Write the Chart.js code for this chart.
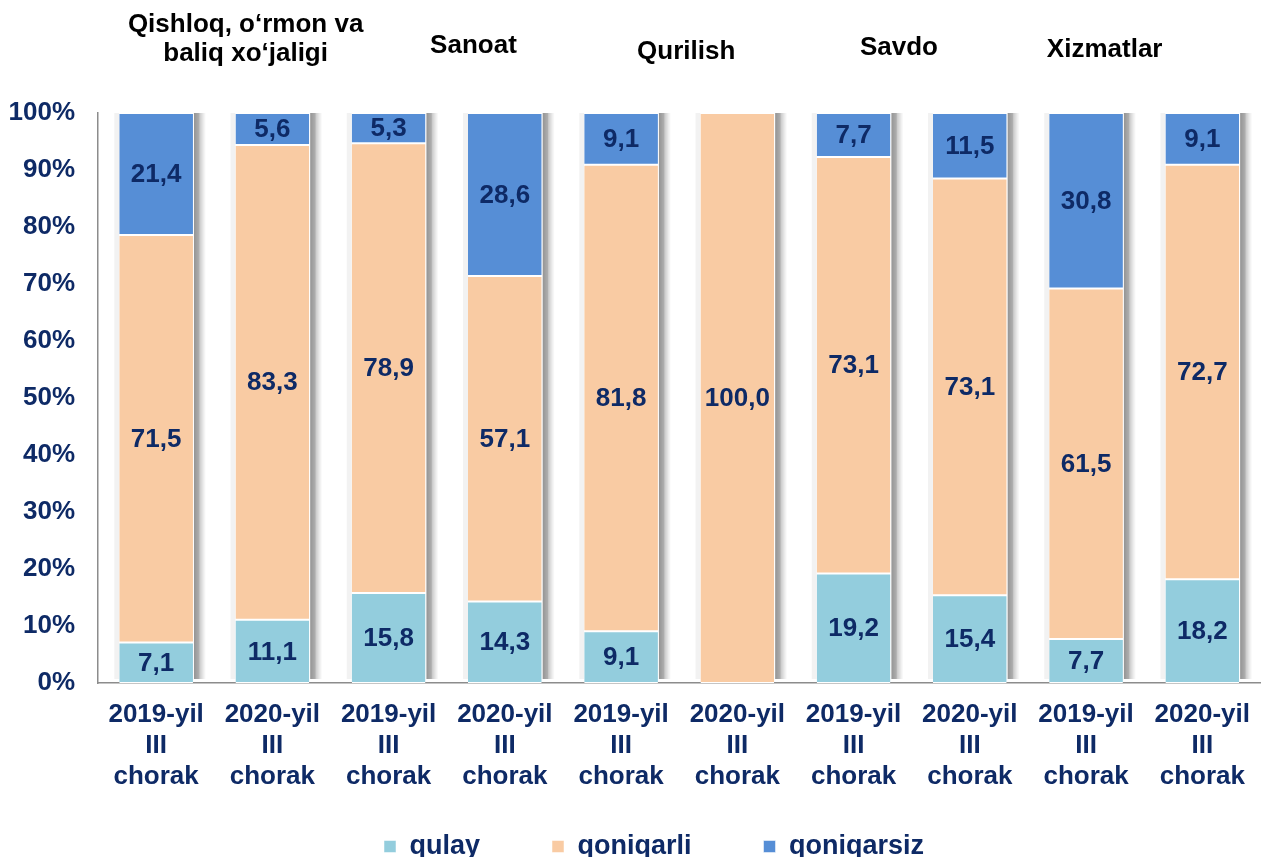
<!DOCTYPE html>
<html>
<head>
<meta charset="utf-8">
<title>Ishbilarmonlik muhiti baholari</title>
<script src="https://cdn.jsdelivr.net/npm/chart.js@4.4.1/dist/chart.umd.min.js"></script>
<style>
  html, body { margin: 0; padding: 0; background: #fff; overflow: hidden; }
  #wrap { width: 1266px; height: 904px; }
</style>
</head>
<body>
<div id="wrap"><canvas id="barChart" width="1266" height="904"></canvas></div>
<script>
// values (per cent of answers)
const categories = [
    ['2019-yil', 'III', 'chorak'], ['2020-yil', 'III', 'chorak'],
    ['2019-yil', 'III', 'chorak'], ['2020-yil', 'III', 'chorak'],
    ['2019-yil', 'III', 'chorak'], ['2020-yil', 'III', 'chorak'],
    ['2019-yil', 'III', 'chorak'], ['2020-yil', 'III', 'chorak'],
    ['2019-yil', 'III', 'chorak'], ['2020-yil', 'III', 'chorak']
];
const seriesNames = ['qulay', 'qoniqarli', 'qoniqarsiz'];
const qulay      = [7.1, 11.1, 15.8, 14.3, 9.1, 0, 19.2, 15.4, 7.7, 18.2];
const qoniqarli  = [71.5, 83.3, 78.9, 57.1, 81.8, 100.0, 73.1, 73.1, 61.5, 72.7];
const qoniqarsiz = [21.4, 5.6, 5.3, 28.6, 9.1, 0, 7.7, 11.5, 30.8, 9.1];
const sectorTitles = [
    ['Qishloq, o‘rmon va', 'baliq xo‘jaligi'],
    ['Sanoat'],
    ['Qurilish'],
    ['Savdo'],
    ['Xizmatlar']
];
const yTickValues = [0, 10, 20, 30, 40, 50, 60, 70, 80, 90, 100];

// where the sector titles sit (category units / canvas baselines)
const titleLayout = [
    { at: 0.77, baselines: [32, 61] },
    { at: 2.73, baselines: [53] },
    { at: 4.56, baselines: [59] },
    { at: 6.39, baselines: [55] },
    { at: 8.16, baselines: [57] }
];

const NAVY = '#0e2a66';
const FONT = "'Liberation Sans', Arial, sans-serif";
Chart.defaults.font.family = FONT;

const fmt = v => v.toFixed(1).replace('.', ',');

// grey drop shadow to the right of every stacked column
const barShadow = {
    id: 'barShadow',
    beforeDatasetsDraw(chart) {
        const ctx = chart.ctx;
        const y = chart.scales.y;
        const bars = chart.getDatasetMeta(0).data;
        bars.forEach((bar, i) => {
            const total = chart.data.datasets.reduce((s, ds) => s + (ds.data[i] || 0), 0);
            const top = y.getPixelForValue(total);
            const bottom = y.getPixelForValue(0) - 4;
            const right = bar.x + bar.width / 2 + 1;
            const left = bar.x - bar.width / 2;
            const g = ctx.createLinearGradient(right, 0, right + 12, 0);
            g.addColorStop(0, 'rgba(0,0,0,0.42)');
            g.addColorStop(0.4, 'rgba(0,0,0,0.32)');
            g.addColorStop(0.5, 'rgba(0,0,0,0.20)');
            g.addColorStop(0.8, 'rgba(0,0,0,0.07)');
            g.addColorStop(1, 'rgba(0,0,0,0)');
            ctx.save();
            ctx.fillStyle = g;
            ctx.fillRect(right, top, 12, bottom - top);
            ctx.fillStyle = 'rgba(0,0,0,0.05)';
            ctx.fillRect(left - 5, top, 5, bottom - top);
            ctx.restore();
        });
    }
};

// numbers inside the segments
const valueLabels = {
    id: 'valueLabels',
    afterDatasetsDraw(chart) {
        const ctx = chart.ctx;
        ctx.save();
        ctx.font = 'bold 26px ' + FONT;
        ctx.fillStyle = NAVY;
        ctx.textAlign = 'center';
        ctx.textBaseline = 'middle';
        chart.data.datasets.forEach((ds, d) => {
            chart.getDatasetMeta(d).data.forEach((bar, i) => {
                const v = ds.data[i];
                if (!v) return;
                ctx.fillText(fmt(v), bar.x, (bar.y + bar.base) / 2 + 1);
            });
        });
        ctx.restore();
    }
};

// sector names above the columns
const sectorTitlesPlugin = {
    id: 'sectorTitles',
    afterDraw(chart) {
        const ctx = chart.ctx;
        const x = chart.scales.x;
        ctx.save();
        ctx.font = 'bold 26px ' + FONT;
        ctx.fillStyle = '#000';
        ctx.textAlign = 'center';
        ctx.textBaseline = 'alphabetic';
        sectorTitles.forEach((lines, k) => {
            const spot = titleLayout[k];
            const px = x.getPixelForValue(spot.at);
            lines.forEach((t, j) => ctx.fillText(t, px, spot.baselines[j]));
        });
        ctx.restore();
    }
};

// legend sits right of the canvas centre and tight under the axis labels in the original
const legendNudge = {
    id: 'legendNudge',
    afterLayout(chart, args, opts) {
        const lg = chart.legend;
        if (!lg) return;
        lg.left += opts.dx;
        lg.right += opts.dx;
        lg.top += opts.dy;
        lg.bottom += opts.dy;
    }
};

const colours = ['#93cddd', '#f9cba3', '#568ed6'];
const seriesData = [qulay, qoniqarli, qoniqarsiz];

const ctx = document.getElementById('barChart').getContext('2d');
new Chart(ctx, {
    type: 'bar',
    data: {
        labels: categories,
        datasets: seriesNames.map((name, k) => ({
            label: name,
            data: seriesData[k],
            backgroundColor: colours[k],
            borderColor: '#ffffff',
            borderWidth: c => (c.raw ? { top: 1, bottom: 1, left: 0, right: 0 } : 0),
            borderSkipped: false,
            categoryPercentage: 1,
            barPercentage: 0.634
        }))
    },
    options: {
        responsive: false,
        animation: false,
        layout: { padding: { top: 113, left: 0, right: 0, bottom: 0 } },
        scales: {
            x: {
                stacked: true,
                grid: { display: false, drawTicks: false },
                border: { display: true, color: '#8c8c8c', width: 1.5 },
                ticks: {
                    color: NAVY,
                    font: { size: 26, weight: 'bold', lineHeight: 1.2 },
                    padding: 16,
                    maxRotation: 0,
                    autoSkip: false
                },
                afterFit: scale => { scale.height = 112; }
            },
            y: {
                stacked: true,
                min: 0,
                max: 100,
                afterBuildTicks: scale => { scale.ticks = yTickValues.map(v => ({ value: v })); },
                grid: { display: false, drawTicks: false },
                border: { display: true, color: '#8c8c8c', width: 1.5 },
                ticks: {
                    color: NAVY,
                    font: { size: 26, weight: 'bold' },
                    padding: 23,
                    callback: v => v + '%'
                },
                afterFit: scale => { scale.width = 98; }
            }
        },
        plugins: {
            legend: {
                display: true,
                position: 'bottom',
                labels: {
                    boxWidth: 12,
                    boxHeight: 12,
                    padding: 72,
                    color: NAVY,
                    font: { size: 27, weight: 'bold' }
                }
            },
            legendNudge: { dx: 21, dy: -34 },
            tooltip: { enabled: false }
        }
    },
    plugins: [barShadow, valueLabels, sectorTitlesPlugin, legendNudge]
});
</script>
</body>
</html>
